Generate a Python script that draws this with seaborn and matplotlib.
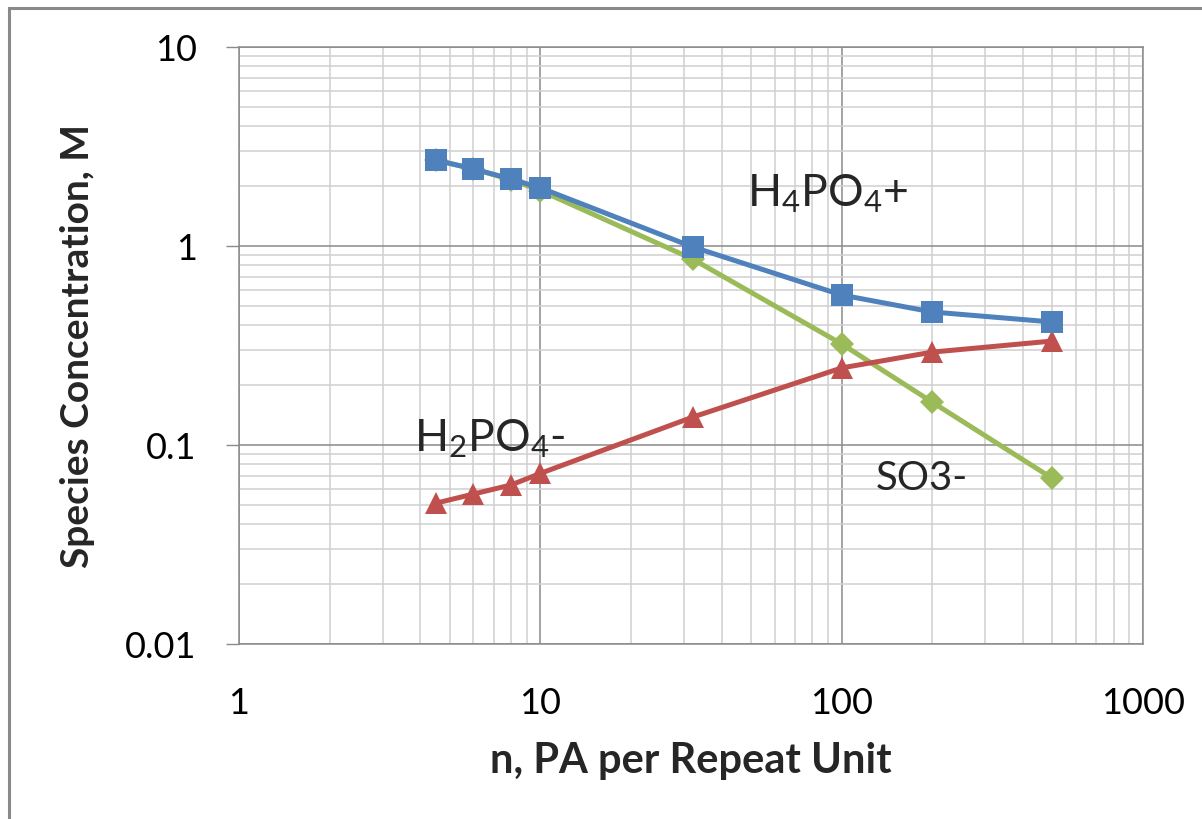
import matplotlib
matplotlib.use("Agg")
import matplotlib.pyplot as plt
import seaborn as sns
import pandas as pd
from matplotlib.patches import Rectangle
from matplotlib.ticker import FixedLocator, FixedFormatter, LogLocator, NullFormatter

# Data: species concentration (M) vs. PA per repeat unit
n_pa = [4.5, 6, 8, 10, 32, 100, 200, 500]
h4po4_plus = [2.70, 2.44, 2.17, 1.96, 0.99, 0.567, 0.466, 0.415]
so3_minus = [2.70, 2.44, 2.15, 1.90, 0.86, 0.322, 0.164, 0.068]
h2po4_minus = [0.051, 0.0567, 0.063, 0.072, 0.138, 0.244, 0.293, 0.333]

x_ticks = [1, 10, 100, 1000]
x_tick_labels = ["1", "10", "100", "1000"]
y_ticks = [0.01, 0.1, 1, 10]
y_tick_labels = ["0.01", "0.1", "1", "10"]

sns.set_theme(style="white")
plt.rcParams["font.family"] = ["Lato", "DejaVu Sans"]
plt.rcParams["mathtext.fontset"] = "custom"
plt.rcParams["mathtext.rm"] = "Lato"
plt.rcParams["mathtext.it"] = "Lato"
plt.rcParams["mathtext.bf"] = "Lato:bold"

fig = plt.figure(figsize=(12.02, 8.2), dpi=100)
ax = fig.add_axes([239 / 1202, 1 - 645 / 820, (1143 - 239) / 1202, (645 - 48) / 820])

blue = "#4F81BD"
red = "#C0504D"
green = "#9BBB59"

series = [
    (so3_minus, green, "D", 12),
    (h2po4_minus, red, "^", 16),
    (h4po4_plus, blue, "s", 15.5),
]
for values, color, marker, msize in series:
    df = pd.DataFrame({"n": n_pa, "c": values})
    sns.lineplot(data=df, x="n", y="c", ax=ax, color=color, marker=marker,
                 markersize=msize, markeredgewidth=0, linewidth=3.6,
                 zorder=3, legend=False)

ax.set_xscale("log")
ax.set_yscale("log")
ax.set_xlim(1, 1000)
ax.set_ylim(0.01, 10)

ax.xaxis.set_major_locator(FixedLocator(x_ticks))
ax.xaxis.set_major_formatter(FixedFormatter(x_tick_labels))
ax.yaxis.set_major_locator(FixedLocator(y_ticks))
ax.yaxis.set_major_formatter(FixedFormatter(y_tick_labels))
ax.xaxis.set_minor_locator(LogLocator(base=10, subs=range(2, 10)))
ax.yaxis.set_minor_locator(LogLocator(base=10, subs=range(2, 10)))
ax.xaxis.set_minor_formatter(NullFormatter())
ax.yaxis.set_minor_formatter(NullFormatter())

ax.grid(True, which="major", color="#8a8a8a", linewidth=1.1, zorder=1)
ax.grid(True, which="minor", color="#cfcfcf", linewidth=1.1, zorder=1)
ax.set_axisbelow(True)

for side in ["left", "bottom", "top", "right"]:
    ax.spines[side].set_color("#8a8a8a")
    ax.spines[side].set_linewidth(1.1)

ax.tick_params(axis="y", which="major", direction="out", length=9.5, width=1.0,
               color="#8a8a8a", pad=21, labelsize=26, labelcolor="black", left=True)
ax.tick_params(axis="y", which="minor", length=0)
ax.tick_params(axis="x", which="both", length=0, pad=30, labelsize=26,
               labelcolor="black")

ax.set_xlabel("n, PA per Repeat Unit", fontsize=30, fontweight="bold", labelpad=16)
ax.set_ylabel("Species Concentration, M", fontsize=28, fontweight="bold", labelpad=22)

ax.text(48.5, 1.61, r"H$_4$PO$_4$+", fontsize=32, va="baseline", ha="left", zorder=4)
ax.text(3.82, 0.0944, r"H$_2$PO$_4$-", fontsize=32, va="baseline", ha="left", zorder=4)
ax.text(129.4, 0.060, "SO3-", fontsize=29, va="baseline", ha="left", zorder=4)

# outer chart frame
fig.patches.append(Rectangle((9 / 1202, -0.1), 1.2, (1 - 9 / 820) + 0.1,
                             transform=fig.transFigure, fill=False,
                             edgecolor="#8a8a8a", linewidth=2.2))

fig.savefig("out.png", dpi=100)
